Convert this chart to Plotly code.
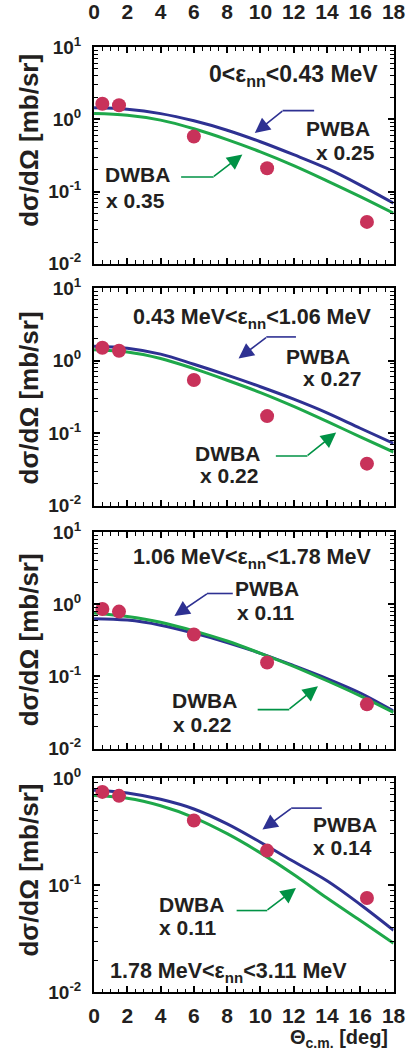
import plotly.graph_objects as go

# ---------------- data ----------------
theta_curve = [0, 2, 4, 6, 8, 10, 12, 14, 16, 18]
theta_pts = [0.5, 1.5, 6.0, 10.4, 16.4]

pwba_1 = [1.445, 1.380, 1.202, 0.955, 0.708, 0.490, 0.324, 0.209, 0.123, 0.069]
dwba_1 = [1.202, 1.140, 0.977, 0.741, 0.525, 0.355, 0.229, 0.141, 0.0851, 0.0501]
data_1 = [1.65, 1.57, 0.58, 0.21, 0.038]

pwba_2 = [1.585, 1.486, 1.230, 0.891, 0.631, 0.437, 0.295, 0.191, 0.117, 0.0724]
dwba_2 = [1.413, 1.318, 1.072, 0.776, 0.537, 0.363, 0.234, 0.145, 0.0891, 0.0550]
data_2 = [1.51, 1.37, 0.54, 0.172, 0.038]

pwba_3 = [0.631, 0.603, 0.513, 0.398, 0.295, 0.209, 0.141, 0.0933, 0.0589, 0.0331]
dwba_3 = [0.759, 0.676, 0.562, 0.427, 0.309, 0.209, 0.138, 0.0871, 0.0537, 0.0316]
data_3 = [0.86, 0.79, 0.38, 0.156, 0.041]

pwba_4 = [0.767, 0.724, 0.631, 0.513, 0.372, 0.251, 0.166, 0.110, 0.0661, 0.0380]
dwba_4 = [0.684, 0.646, 0.550, 0.427, 0.302, 0.200, 0.126, 0.0759, 0.0468, 0.0288]
data_4 = [0.74, 0.68, 0.40, 0.21, 0.076]

panel_labels = ["0&lt;ε<sub>nn</sub>&lt;0.43 MeV",
                "0.43 MeV&lt;ε<sub>nn</sub>&lt;1.06 MeV",
                "1.06 MeV&lt;ε<sub>nn</sub>&lt;1.78 MeV",
                "1.78 MeV&lt;ε<sub>nn</sub>&lt;3.11 MeV"]
pwba_scale = ["x 0.25", "x 0.27", "x 0.11", "x 0.14"]
dwba_scale = ["x 0.35", "x 0.22", "x 0.22", "x 0.11"]

x_ticks = [0, 2, 4, 6, 8, 10, 12, 14, 16, 18]
x_minor = [v / 2 for v in range(1, 36) if v % 4 != 0]
y_ticks = [0.01, 0.1, 1, 10]
y_ticktext = ["10<sup>-2</sup>", "10<sup>-1</sup>", "10<sup>0</sup>", "10<sup>1</sup>"]
y_minor = [m * d for d in (0.01, 0.1, 1) for m in range(2, 10)]

# ---------------- layout helpers ----------------
W, H = 418, 1063
def px(p):
    return p / W
def py(p):
    return 1 - p / H

BLUE = "#2e3192"
GREEN = "#1ea84a"
GREEN_ARROW = "#009245"
RED = "#c8325a"
FONT = "Liberation Sans, Arial, sans-serif"

panel_px = [(33, 255), (280, 503), (530, 752), (782, 1002)]
yranges = [[-2, 1], [-2, 1], [-2, 1], [-2, 0]]

pwba = [pwba_1, pwba_2, pwba_3, pwba_4]
dwba = [dwba_1, dwba_2, dwba_3, dwba_4]
dats = [data_1, data_2, data_3, data_4]

fig = go.Figure()
for i in range(4):
    xa = "x" if i == 0 else f"x{i+1}"
    ya = "y" if i == 0 else f"y{i+1}"
    fig.add_trace(go.Scatter(x=theta_curve, y=pwba[i], mode="lines",
                             line=dict(color=BLUE, width=3, shape="spline"),
                             xaxis=xa, yaxis=ya, showlegend=False))
    fig.add_trace(go.Scatter(x=theta_curve, y=dwba[i], mode="lines",
                             line=dict(color=GREEN, width=3, shape="spline"),
                             xaxis=xa, yaxis=ya, showlegend=False))
    fig.add_trace(go.Scatter(x=theta_pts, y=dats[i], mode="markers",
                             marker=dict(color=RED, size=14, line=dict(width=0)),
                             xaxis=xa, yaxis=ya, showlegend=False))

layout = dict(width=W, height=H, margin=dict(l=0, r=0, t=0, b=0),
              paper_bgcolor="white", plot_bgcolor="white",
              font=dict(family=FONT, color="#231f20"), showlegend=False)

for i in range(4):
    top, bot = panel_px[i]
    xk = "xaxis" if i == 0 else f"xaxis{i+1}"
    yk = "yaxis" if i == 0 else f"yaxis{i+1}"
    ya = "y" if i == 0 else f"y{i+1}"
    xa = "x" if i == 0 else f"x{i+1}"
    layout[xk] = dict(domain=[px(92), px(405)], anchor=ya, range=[0, 18],
                      showgrid=False, zeroline=False,
                      showline=True, linewidth=2, linecolor="black", mirror="ticks",
                      ticks="inside", ticklen=6, tickwidth=1.5, tickcolor="black",
                      tickvals=x_ticks, ticktext=[str(v) for v in x_ticks],
                      minor=dict(tickvals=x_minor, ticks="inside", ticklen=3.5,
                                 tickwidth=1.2, tickcolor="black", showgrid=False),
                      showticklabels=(i in (0, 3)),
                      side="top" if i == 0 else "bottom",
                      ticklabelstandoff=18 if i == 0 else 3,
                      tickfont=dict(size=21, family=FONT, weight="bold", color="#231f20"))
    layout[yk] = dict(domain=[py(bot), py(top)], anchor=xa, type="log",
                      range=yranges[i], showgrid=False, zeroline=False,
                      showline=True, linewidth=2, linecolor="black", mirror="ticks",
                      ticks="inside", ticklen=6, tickwidth=1.5, tickcolor="black",
                      tickvals=y_ticks, ticktext=y_ticktext,
                      minor=dict(tickvals=y_minor, ticks="inside", ticklen=3.5,
                                 tickwidth=1.2, tickcolor="black", showgrid=False),
                      ticklabelstandoff=7,
                      tickfont=dict(size=19, family=FONT, weight="bold", color="#231f20"))

annotations = []
shapes = []
bold = dict(family=FONT, weight="bold", color="#231f20")

def text(t, x, y, size=21, xanchor="center", angle=0):
    annotations.append(dict(text=t, x=px(x), y=py(y), xref="paper", yref="paper",
                            showarrow=False, xanchor=xanchor, yanchor="middle",
                            textangle=angle, font=dict(size=size, **bold)))

def arrow(color, tail, bend, tip):
    shapes.append(dict(type="line", xref="paper", yref="paper",
                       x0=px(tail[0]), y0=py(tail[1]), x1=px(bend[0]), y1=py(bend[1]),
                       line=dict(color=color, width=1.6)))
    annotations.append(dict(text="", x=px(tip[0]), y=py(tip[1]), xref="paper", yref="paper",
                            showarrow=True, axref="pixel", ayref="pixel",
                            ax=bend[0] - tip[0], ay=bend[1] - tip[1],
                            arrowhead=2, arrowsize=1.9, arrowwidth=1.6, arrowcolor=color,
                            standoff=0, startstandoff=0))

# y titles
for c in (128, 392, 640, 876):
    text("dσ/dΩ [mb/sr]", 24, c, size=26, angle=-90)

LBL = 21.5
# panel 1
text(panel_labels[0], 391, 62, size=23, xanchor="right")
text("PWBA", 347, 116); text(pwba_scale[0], 355, 141)
text("DWBA", 137, 163); text(dwba_scale[0], 135, 190)
arrow(BLUE, (322, 98), (289, 98), (260, 121))
arrow(GREEN_ARROW, (183, 166), (217, 166), (247, 143))

# panel 2
text(panel_labels[1], 383, 311, size=LBL, xanchor="right")
text("PWBA", 326, 350); text(pwba_scale[1], 341, 373)
text("DWBA", 231, 450); text(dwba_scale[1], 233, 472)
arrow(BLUE, (303, 330), (272, 330), (243, 352))
arrow(GREEN_ARROW, (282, 452), (315, 452), (345, 428))

# panel 3
text(panel_labels[2], 383, 557, size=LBL, xanchor="right")
text("PWBA", 273, 588); text(pwba_scale[2], 272, 612)
text("DWBA", 207, 703); text(dwba_scale[2], 205, 727)
arrow(BLUE, (237, 593), (210, 593), (176, 616))
arrow(GREEN_ARROW, (263, 712), (296, 712), (326, 688))

# panel 4
text(panel_labels[3], 107, 982, size=LBL, xanchor="left")
text("PWBA", 354, 830); text(pwba_scale[3], 352, 853)
text("DWBA", 194, 912); text(dwba_scale[3], 190, 935)
arrow(BLUE, (330, 813), (298, 813), (268, 835))
arrow(GREEN_ARROW, (241, 918), (273, 918), (303, 895))

# x title
text("Θ<sub>c.m.</sub> [deg]", 401, 1049, size=20, xanchor="right")

layout["annotations"] = annotations
layout["shapes"] = shapes
fig.update_layout(**layout)
fig.write_html("out.html")
